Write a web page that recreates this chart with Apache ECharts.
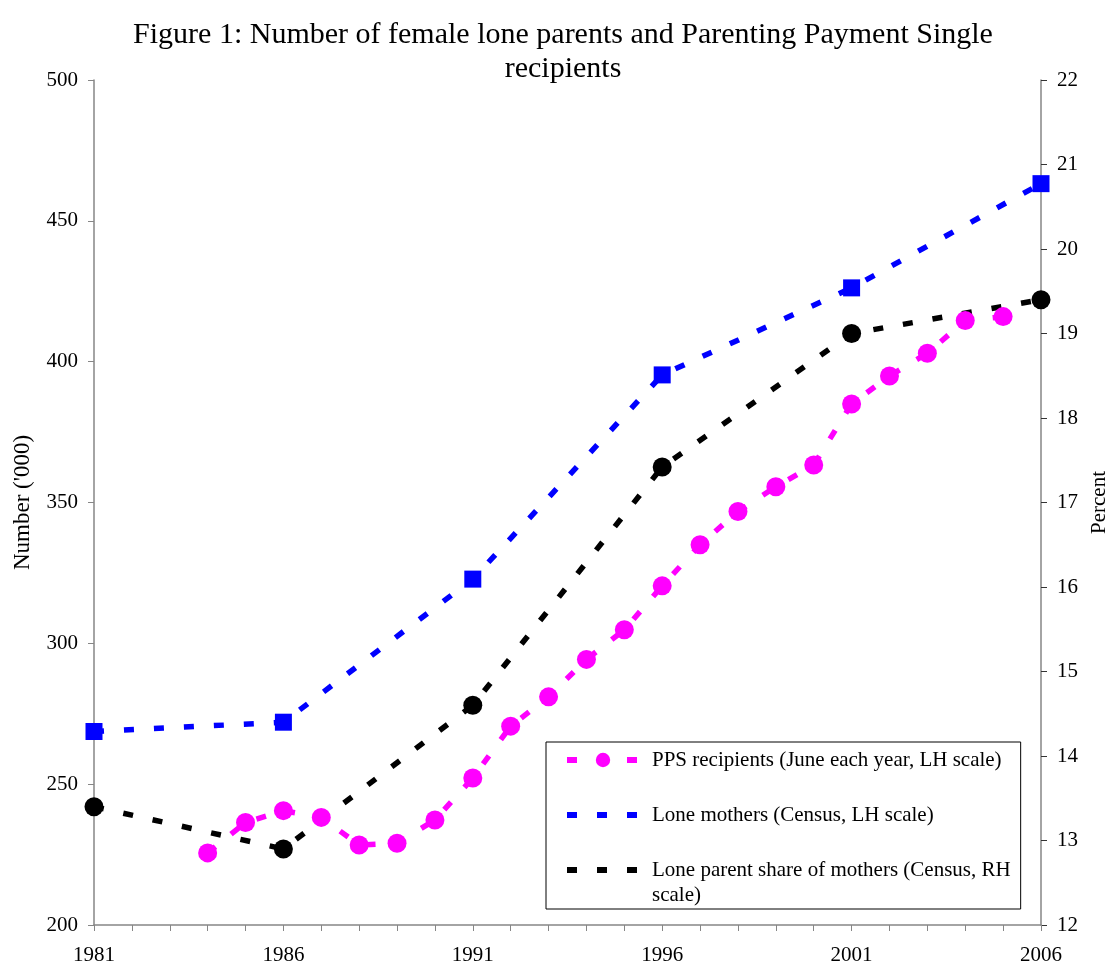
<!DOCTYPE html>
<html>
<head>
<meta charset="utf-8">
<script src="https://cdn.jsdelivr.net/npm/echarts@6/dist/echarts.min.js"></script>
<style>
	html, body { margin: 0; padding: 0; background: #fff; }
	#chart { width: 1106px; height: 967px; }
</style>
</head>
<body>
<div id="chart"></div>
<script>
	// data
	var ppsYears = [1984, 1985, 1986, 1987, 1988, 1989, 1990, 1991, 1992, 1993, 1994,
		1995, 1996, 1997, 1998, 1999, 2000, 2001, 2002, 2003, 2004, 2005];
	var ppsValues = [225.6, 236.4, 240.6, 238.2, 228.4, 229.0, 237.3, 252.2, 270.6, 281.0, 294.3,
		304.8, 320.4, 335.0, 346.8, 355.6, 363.3, 385.0, 394.9, 403.0, 414.6, 416.0];
	var censusYears = [1981, 1986, 1991, 1996, 2001, 2006];
	var loneMothers = [268.7, 272.0, 322.8, 395.3, 426.2, 463.2];
	var loneShare = [13.4, 12.9, 14.6, 17.42, 19.0, 19.4];

	var seriesNames = [
		'PPS recipients (June each year, LH scale)',
		'Lone mothers (Census, LH scale)',
		'Lone parent share of mothers (Census, RH scale)'
	];

	function pairs(xs, ys) {
		var out = [];
		for (var i = 0; i < xs.length; i++) out.push([xs[i], ys[i]]);
		return out;
	}

	var chart = echarts.init(document.getElementById('chart'));
	var serif = 'Liberation Serif';
	var axisGray = '#868686';
	var dash = [10, 20];

	var option = {
		backgroundColor: '#fff',
		animation: false,
		textStyle: { fontFamily: serif },
		title: {
			text: 'Figure 1: Number of female lone parents and Parenting Payment Single\nrecipients',
			left: 558,
			top: 13,
			textAlign: 'center',
			textStyle: { fontFamily: serif, fontWeight: 'normal', fontSize: 30, lineHeight: 34, color: '#000' }
		},
		grid: { left: 94, right: 65, top: 80, bottom: 42, outerBoundsMode: 'none', containLabel: false },
		legend: {
			orient: 'vertical',
			left: 546,
			top: 742,
			padding: [4.5, 10, 25.5, 18],
			itemGap: 28,
			itemWidth: 72,
			itemHeight: 18,
			backgroundColor: '#fff',
			borderColor: '#000',
			borderWidth: 1,
			borderRadius: 0,
			lineStyle: { width: 6 },
			textStyle: { fontFamily: serif, fontSize: 21, color: '#000', lineHeight: 27, padding: [0, 0, 0, 8] },
			data: [
				{ name: seriesNames[0] },
				{ name: seriesNames[1], itemStyle: { opacity: 0 } },
				{ name: seriesNames[2], itemStyle: { opacity: 0 } }
			],
			formatter: function (name) {
				// third entry wraps; its second line is added below as a graphic text
				if (name === seriesNames[2]) return 'Lone parent share of mothers (Census, RH';
				return name;
			}
		},
		graphic: [{
			type: 'text',
			z: 100,
			left: 652,
			top: 885,
			style: { text: 'scale)', fontFamily: serif, fontSize: 21, fill: '#000' }
		}],
		xAxis: {
			type: 'value',
			min: 1981,
			max: 2006,
			interval: 1,
			splitLine: { show: false },
			axisLine: { lineStyle: { color: axisGray, width: 1.5 } },
			axisTick: { length: 6, lineStyle: { color: axisGray } },
			axisLabel: {
				margin: 20,
				fontFamily: serif,
				fontSize: 21,
				color: '#000',
				formatter: function (v) {
					return (v - 1981) % 5 === 0 ? String(v) : '';
				}
			}
		},
		yAxis: [{
			type: 'value',
			min: 200,
			max: 500,
			interval: 50,
			name: "Number ('000)",
			nameLocation: 'middle',
			nameGap: 60,
			nameTextStyle: { fontFamily: serif, fontSize: 23, color: '#000' },
			splitLine: { show: false },
			axisLine: { show: true, lineStyle: { color: axisGray, width: 1.5 } },
			axisTick: { show: true, length: 6, lineStyle: { color: axisGray } },
			axisLabel: { margin: 16, fontFamily: serif, fontSize: 21, color: '#000' }
		}, {
			type: 'value',
			position: 'right',
			min: 12,
			max: 22,
			interval: 1,
			name: 'Percent',
			nameLocation: 'middle',
			nameGap: 46,
			nameTextStyle: { fontFamily: serif, fontSize: 21, color: '#000' },
			splitLine: { show: false },
			axisLine: { show: true, lineStyle: { color: axisGray, width: 1.5 } },
			axisTick: { show: true, length: 6, lineStyle: { color: '#333' } },
			axisLabel: { margin: 16, fontFamily: serif, fontSize: 21, color: '#000' }
		}],
		series: [{
			name: seriesNames[0],
			type: 'line',
			yAxisIndex: 0,
			data: pairs(ppsYears, ppsValues),
			symbol: 'circle',
			symbolSize: 19,
			itemStyle: { color: '#ff00ff' },
			lineStyle: { color: '#ff00ff', width: 5.5, type: dash, cap: 'butt' }
		}, {
			name: seriesNames[1],
			type: 'line',
			yAxisIndex: 0,
			data: pairs(censusYears, loneMothers),
			symbol: 'rect',
			symbolSize: 17,
			itemStyle: { color: '#0000ff' },
			lineStyle: { color: '#0000ff', width: 5.5, type: dash, cap: 'butt' }
		}, {
			name: seriesNames[2],
			type: 'line',
			yAxisIndex: 1,
			data: pairs(censusYears, loneShare),
			symbol: 'circle',
			symbolSize: 19,
			itemStyle: { color: '#000' },
			lineStyle: { color: '#000', width: 5.5, type: dash, cap: 'butt' }
		}]
	};
	chart.setOption(option);
</script>
</body>
</html>
